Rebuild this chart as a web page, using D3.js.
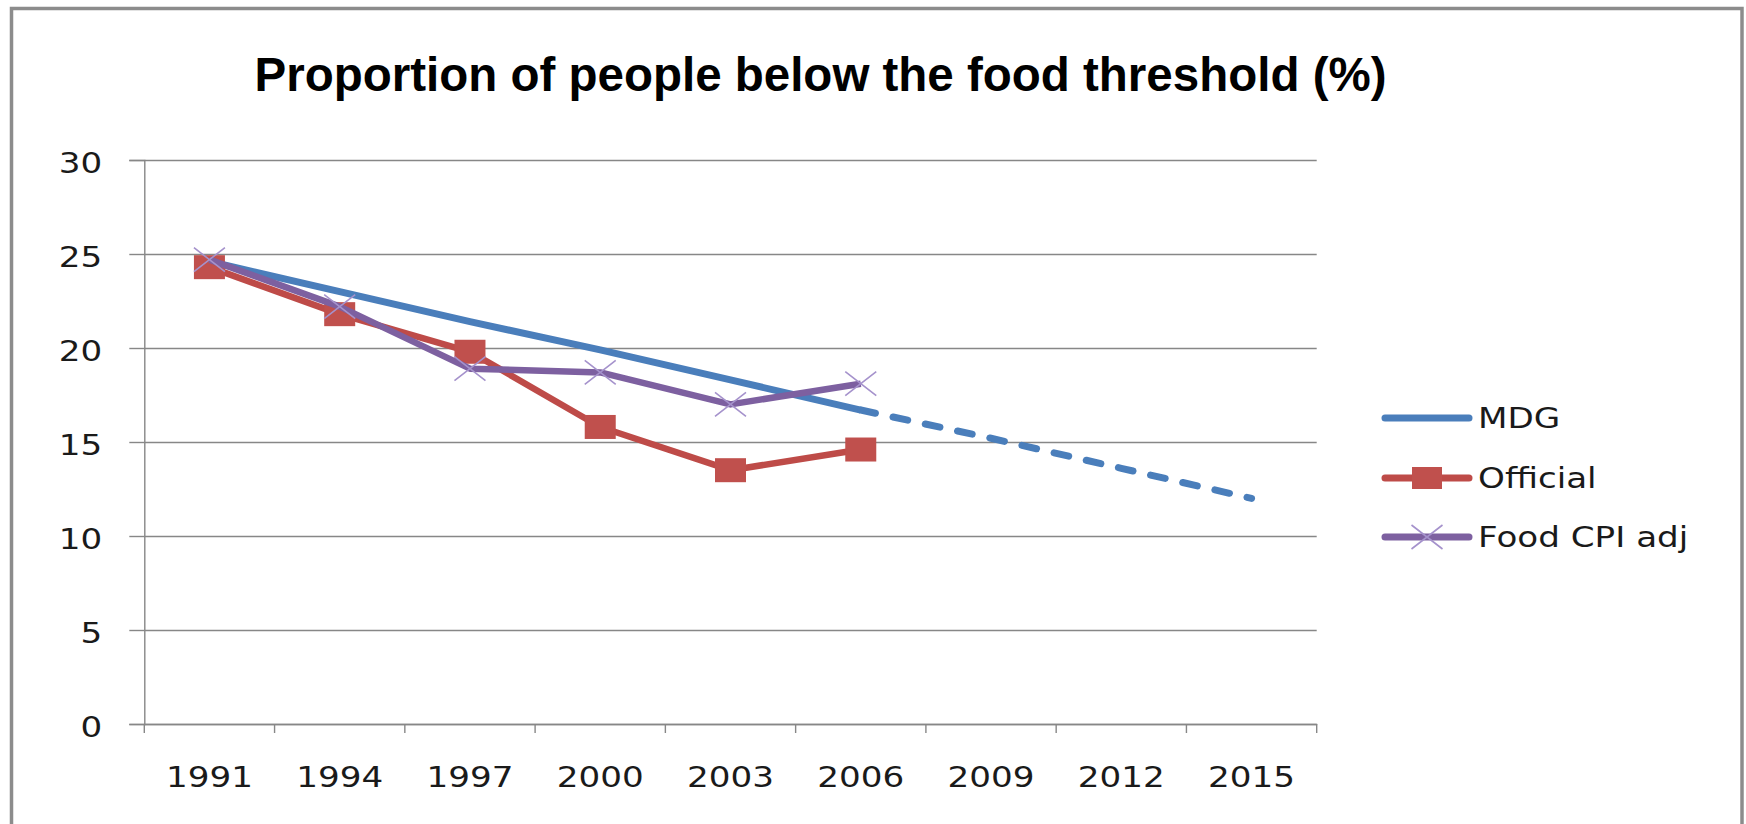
<!DOCTYPE html>
<html>
<head>
<meta charset="utf-8">
<script src="https://cdn.jsdelivr.net/npm/d3@7"></script>
<style>
body { margin: 0; background: #fff; }
svg { display: block; }
</style>
</head>
<body>
<div id="chart"></div>
<script>
// data
var years = ["1991", "1994", "1997", "2000", "2003", "2006", "2009", "2012", "2015"];
var mdg = [24.6, 23.0, 21.4, 19.9, 18.3, 16.7, 15.2, 13.6, 12.0];
var official = [24.3, 21.8, 19.8, 15.8, 13.5, 14.6];
var foodCpi = [24.7, 22.2, 18.9, 18.7, 17.0, 18.1];
var yTicks = [0, 5, 10, 15, 20, 25, 30];
var seriesNames = ["MDG", "Official", "Food CPI adj"];
var mdgLastSolid = "2006";
var title = "Proportion of people below the food threshold (%)";

var W = 1746, H = 824;
var plot = {left: 144.3, right: 1316.7, top: 160, bot: 724};
var col = {
    mdg: "#4a7ebb", off: "#be4b48", offFill: "#c0504d",
    food: "#7d60a0", foodMark: "#a592cc", grid: "#878787", border: "#8c8c8c"
};
var labelFont = "'DejaVu Sans', sans-serif";
var labelSize = 28;
var stretch = 1.22;   // the picture's labels are drawn wide

var svg = d3.select("#chart").append("svg")
    .attr("width", W)
    .attr("height", H);

svg.append("rect")
    .attr("width", W).attr("height", H)
    .attr("fill", "#fff");

// outer frame
svg.append("rect")
    .attr("x", 11.5).attr("y", 8.5)
    .attr("width", 1730.5).attr("height", 840)
    .attr("fill", "none")
    .attr("stroke", col.border)
    .attr("stroke-width", 3.5);

svg.append("text")
    .attr("x", 820.5).attr("y", 91)
    .attr("text-anchor", "middle")
    .attr("font-family", "'Liberation Sans', Arial, sans-serif")
    .attr("font-weight", "bold")
    .attr("font-size", 47.5)
    .attr("fill", "#000")
    .text(title);

var x = d3.scaleBand().domain(years).range([plot.left, plot.right]);
var y = d3.scaleLinear().domain([0, 30]).range([plot.bot, plot.top]);
function cx(yr) { return x(yr) + x.bandwidth() / 2; }

// gridlines
var grid = svg.append("g")
    .attr("transform", "translate(" + plot.left + ",0)")
    .call(d3.axisLeft(y).tickValues(yTicks)
          .tickSize(-(plot.right - plot.left)).tickFormat(""));
grid.select(".domain").remove();
grid.selectAll("line").attr("stroke", col.grid).attr("stroke-width", 1.4);

// y axis
var ya = svg.append("g")
    .attr("transform", "translate(" + plot.left + ",0)")
    .call(d3.axisLeft(y).tickValues(yTicks).tickSize(15).tickPadding(27));
ya.select(".domain").attr("stroke", col.grid).attr("stroke-width", 1.4);
ya.selectAll("line").attr("stroke", col.grid).attr("stroke-width", 1.4);
ya.selectAll("text")
    .attr("dy", "0.43em")
    .attr("font-family", labelFont)
    .attr("font-size", labelSize)
    .attr("fill", "#1a1a1a");

// x axis: labels centred in each band, ticks on band edges
var xa = svg.append("g")
    .attr("transform", "translate(0," + plot.bot + ")")
    .call(d3.axisBottom(x).tickSize(0).tickPadding(43));
xa.select(".domain").attr("stroke", col.grid).attr("stroke-width", 1.4);
xa.selectAll("text")
    .attr("font-family", labelFont)
    .attr("font-size", labelSize)
    .attr("fill", "#1a1a1a");
var edges = years.map(function(d) { return x(d); }).concat([plot.right]);
xa.selectAll(".edge").data(edges).enter().append("line")
    .attr("class", "edge")
    .attr("x1", function(d) { return d; }).attr("x2", function(d) { return d; })
    .attr("y1", 0).attr("y2", 9)
    .attr("stroke", col.grid).attr("stroke-width", 1.4);

// series
var line = d3.line()
    .x(function(d) { return cx(d.yr); })
    .y(function(d) { return y(d.v); });
function pts(vals, from) {
    from = from || 0;
    return vals.map(function(v, i) { return {yr: years[i + from], v: v}; });
}

var cut = years.indexOf(mdgLastSolid);
var lay = svg.append("g");

lay.append("path")
    .datum(pts(mdg.slice(0, cut + 1)))
    .attr("d", line)
    .attr("fill", "none").attr("stroke", col.mdg)
    .attr("stroke-width", 7).attr("stroke-linejoin", "round");
lay.append("path")
    .datum(pts(mdg.slice(cut), cut))
    .attr("d", line)
    .attr("fill", "none").attr("stroke", col.mdg)
    .attr("stroke-width", 7)
    .attr("stroke-linecap", "round")
    .attr("stroke-dasharray", "15 18");

lay.append("path")
    .datum(pts(official))
    .attr("d", line)
    .attr("fill", "none").attr("stroke", col.off)
    .attr("stroke-width", 6.5).attr("stroke-linejoin", "round");
lay.selectAll(".sq").data(pts(official)).enter().append("rect")
    .attr("class", "sq")
    .attr("x", function(d) { return cx(d.yr) - 15.5; })
    .attr("y", function(d) { return y(d.v) - 12; })
    .attr("width", 31).attr("height", 24)
    .attr("fill", col.offFill);

lay.append("path")
    .datum(pts(foodCpi))
    .attr("d", line)
    .attr("fill", "none").attr("stroke", col.food)
    .attr("stroke-width", 6.5).attr("stroke-linejoin", "round");

function cross(g, px, py) {
    g.append("path")
        .attr("d", "M" + (px - 15.5) + "," + (py - 12) + "L" + (px + 15.5) + "," + (py + 12)
              + "M" + (px - 15.5) + "," + (py + 12) + "L" + (px + 15.5) + "," + (py - 12))
        .attr("stroke", col.foodMark).attr("stroke-width", 1.6).attr("fill", "none");
}
pts(foodCpi).forEach(function(d) { cross(lay, cx(d.yr), y(d.v)); });

// legend
var leg = svg.append("g");
var legY = [418, 478, 537];
var legCols = [col.mdg, col.off, col.food];
seriesNames.forEach(function(name, i) {
    leg.append("line")
        .attr("x1", 1385).attr("x2", 1469)
        .attr("y1", legY[i]).attr("y2", legY[i])
        .attr("stroke", legCols[i]).attr("stroke-width", 7)
        .attr("stroke-linecap", "round");
    if (i == 1) {
        leg.append("rect")
            .attr("x", 1412).attr("y", legY[i] - 11)
            .attr("width", 30).attr("height", 22)
            .attr("fill", col.offFill);
    }
    if (i == 2) cross(leg, 1427, legY[i]);
    leg.append("text")
        .attr("class", "legtxt")
        .attr("x", 1478).attr("y", legY[i] + 10)
        .attr("font-family", labelFont)
        .attr("font-size", labelSize)
        .attr("fill", "#1a1a1a")
        .text(name);
});

// widen the label glyphs like the picture
svg.selectAll(".tick text, .legtxt").each(function() {
    var w = this.getComputedTextLength();
    d3.select(this)
        .attr("textLength", w * stretch)
        .attr("lengthAdjust", "spacingAndGlyphs");
});
</script>
</body>
</html>
